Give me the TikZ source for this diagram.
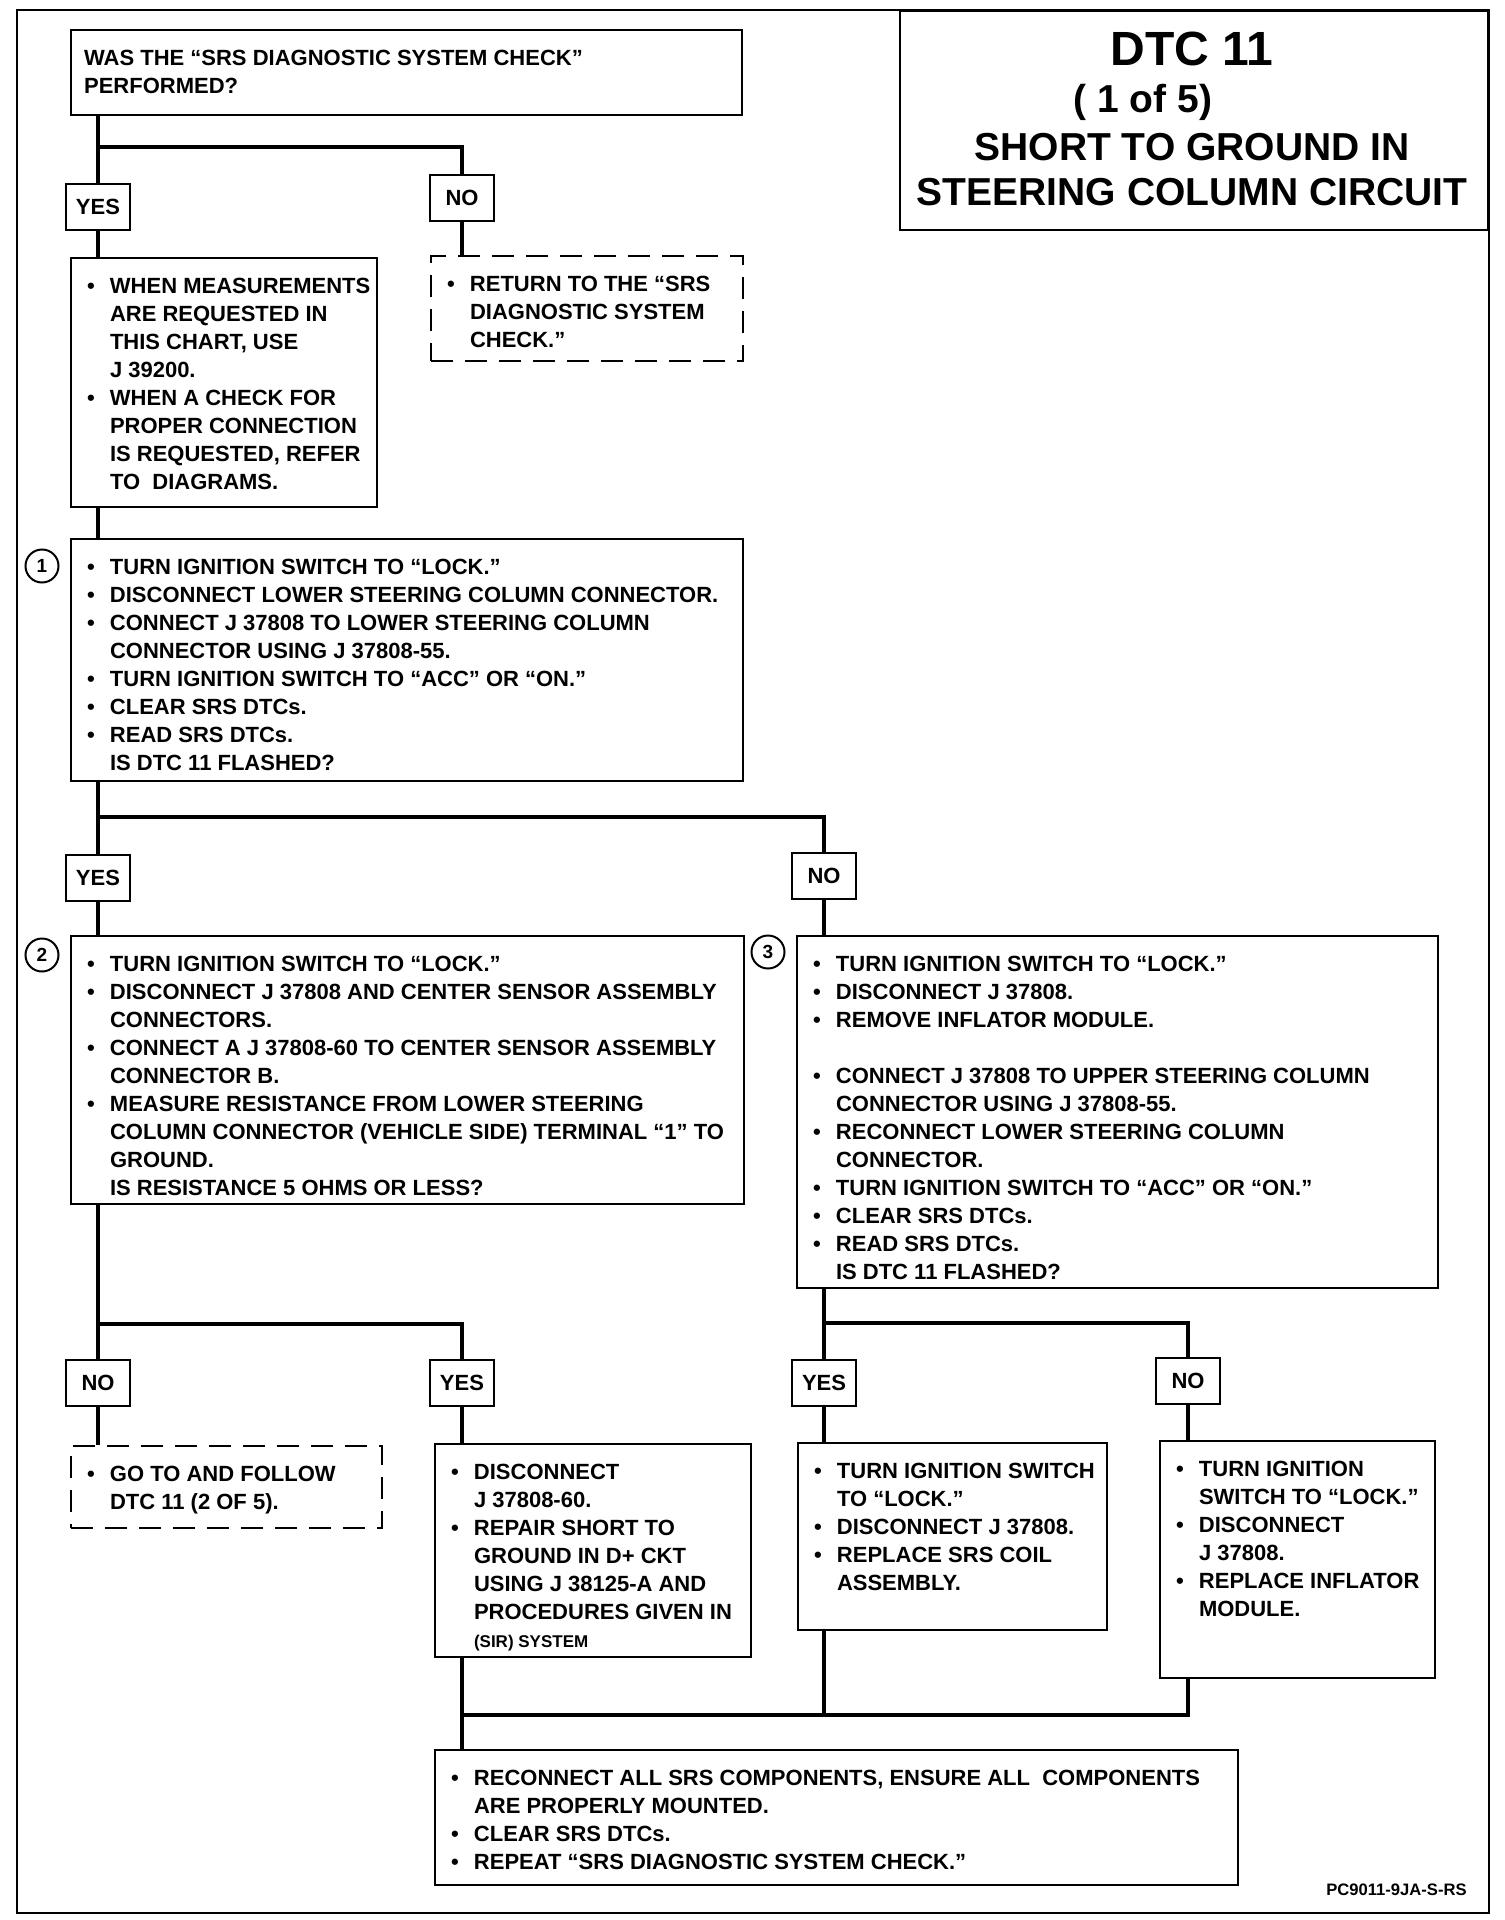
\documentclass[tikz,border=0pt]{standalone}
\usepackage{fontspec}
\setmainfont{Liberation Sans}
\usepackage{tikz}

\newcommand{\boxfont}{\fontsize{11}{14}\selectfont\bfseries}
\newenvironment{bullets}{\begin{tabular}{@{\hspace{8pt}}l@{\hspace{7.6pt}}l@{}}}{\end{tabular}}

\begin{document}
\begin{tikzpicture}[
    x=0.5pt, y=-0.5pt,
    stepbox/.style 2 args={draw, line width=1.1pt, anchor=north west, inner sep=0pt, font=\boxfont,
        execute at begin node={\begin{minipage}[c][#2][t]{#1}\vspace{8pt}\noindent},
        execute at end node={\end{minipage}}},
    dashbox/.style 2 args={stepbox={#1}{#2}, dash pattern=on 11pt off 6pt},
    answer/.style={draw, line width=1.1pt, inner sep=0pt, minimum width=32pt, minimum height=23pt, font=\boxfont},
    stepnum/.style={circle, draw, line width=1pt, inner sep=0pt, minimum size=16.5pt, font=\fontsize{9.5}{10}\selectfont\bfseries},
    titletext/.style={font=\fontsize{19.5}{22}\selectfont\bfseries, inner sep=0pt},
    flow/.style={line width=2.2pt}
]
    \useasboundingbox (0,0) rectangle (1504,1920);

    % --- FRAME AND TITLE ---
    \draw[line width=0.8pt] (17,10) rectangle (1489,1913);
    \node[draw, line width=0.8pt, anchor=north east, inner sep=0pt,
          minimum width=294pt, minimum height=109.5pt] (titlebox) at (1489,10) {};
    \node[titletext, font=\fontsize{24}{28}\selectfont\bfseries] (title1) at (1192,49) {DTC 11};
    \node[titletext] (title2) at (1143,102) {( 1 of 5)};
    \node[titletext] (title3) at (1192,147) {SHORT TO GROUND IN};
    \node[titletext] (title4) at (1192,192) {STEERING COLUMN CIRCUIT};

    % --- START ---
    \node[stepbox={335.5pt}{42.5pt}] (start) at (70,29) {\begin{tabular}{@{\hspace{6.5pt}}l@{}}
        WAS THE “SRS DIAGNOSTIC SYSTEM CHECK”\\
        PERFORMED?
    \end{tabular}};

    \node[answer] (yes1) at (98,207) {YES};
    \node[answer] (no1) at (462,198) {NO};

    \node[stepbox={153pt}{124.5pt}] (notes) at (70,257) {\begin{bullets}
        \textbullet & WHEN MEASUREMENTS\\
        & ARE REQUESTED IN\\
        & THIS CHART, USE\\
        & J 39200.\\
        \textbullet & WHEN A CHECK FOR\\
        & PROPER CONNECTION\\
        & IS REQUESTED, REFER\\
        & TO\ \ DIAGRAMS.
    \end{bullets}};

    \node[dashbox={156pt}{52.5pt}] (return) at (430,255) {\begin{bullets}
        \textbullet & RETURN TO THE “SRS\\
        & DIAGNOSTIC SYSTEM\\
        & CHECK.”
    \end{bullets}};

    % --- STEP 1 ---
    \node[stepnum] (num1) at (42,566) {1};
    \node[stepbox={336pt}{121pt}] (step1) at (70,538) {\begin{bullets}
        \textbullet & TURN IGNITION SWITCH TO “LOCK.”\\
        \textbullet & DISCONNECT LOWER STEERING COLUMN CONNECTOR.\\
        \textbullet & CONNECT J 37808 TO LOWER STEERING COLUMN\\
        & CONNECTOR USING J 37808-55.\\
        \textbullet & TURN IGNITION SWITCH TO “ACC” OR “ON.”\\
        \textbullet & CLEAR SRS DTCs.\\
        \textbullet & READ SRS DTCs.\\
        & IS DTC 11 FLASHED?
    \end{bullets}};

    \node[answer] (yes2) at (98,878) {YES};
    \node[answer] (no2) at (824,876) {NO};

    % --- STEP 2 ---
    \node[stepnum] (num2) at (42,955) {2};
    \node[stepbox={336.5pt}{134pt}] (step2) at (70,935) {\begin{bullets}
        \textbullet & TURN IGNITION SWITCH TO “LOCK.”\\
        \textbullet & DISCONNECT J 37808 AND CENTER SENSOR ASSEMBLY\\
        & CONNECTORS.\\
        \textbullet & CONNECT A J 37808-60 TO CENTER SENSOR ASSEMBLY\\
        & CONNECTOR B.\\
        \textbullet & MEASURE RESISTANCE FROM LOWER STEERING\\
        & COLUMN CONNECTOR (VEHICLE SIDE) TERMINAL “1” TO\\
        & GROUND.\\
        & IS RESISTANCE 5 OHMS OR LESS?
    \end{bullets}};

    % --- STEP 3 ---
    \node[stepnum] (num3) at (768,952) {3};
    \node[stepbox={320.5pt}{176pt}] (step3) at (796,935) {\begin{bullets}
        \textbullet & TURN IGNITION SWITCH TO “LOCK.”\\
        \textbullet & DISCONNECT J 37808.\\
        \textbullet & REMOVE INFLATOR MODULE.\\
        & \\
        \textbullet & CONNECT J 37808 TO UPPER STEERING COLUMN\\
        & CONNECTOR USING J 37808-55.\\
        \textbullet & RECONNECT LOWER STEERING COLUMN\\
        & CONNECTOR.\\
        \textbullet & TURN IGNITION SWITCH TO “ACC” OR “ON.”\\
        \textbullet & CLEAR SRS DTCs.\\
        \textbullet & READ SRS DTCs.\\
        & IS DTC 11 FLASHED?
    \end{bullets}};

    \node[answer] (no3) at (98,1383) {NO};
    \node[answer] (yes3) at (462,1383) {YES};
    \node[answer] (yes4) at (824,1383) {YES};
    \node[answer] (no4) at (1188,1381) {NO};

    % --- RESULTS ---
    \node[dashbox={155.5pt}{41pt}] (goto) at (70,1445) {\begin{bullets}
        \textbullet & GO TO AND FOLLOW\\
        & DTC 11 (2 OF 5).
    \end{bullets}};

    \node[stepbox={158pt}{106.5pt}] (repair) at (434,1443) {\begin{bullets}
        \textbullet & DISCONNECT\\
        & J 37808-60.\\
        \textbullet & REPAIR SHORT TO\\
        & GROUND IN D+ CKT\\
        & USING J 38125-A AND\\
        & PROCEDURES GIVEN IN\\
        & {\fontsize{8.5}{14}\selectfont (SIR) SYSTEM}
    \end{bullets}};

    \node[stepbox={154.5pt}{93.5pt}] (coil) at (797,1442) {\begin{bullets}
        \textbullet & TURN IGNITION SWITCH\\
        & TO “LOCK.”\\
        \textbullet & DISCONNECT J 37808.\\
        \textbullet & REPLACE SRS COIL\\
        & ASSEMBLY.
    \end{bullets}};

    \node[stepbox={137.5pt}{118.5pt}] (inflator) at (1159,1440) {\begin{bullets}
        \textbullet & TURN IGNITION\\
        & SWITCH TO “LOCK.”\\
        \textbullet & DISCONNECT\\
        & J 37808.\\
        \textbullet & REPLACE INFLATOR\\
        & MODULE.
    \end{bullets}};

    \node[stepbox={401.5pt}{67.5pt}] (finish) at (434,1749) {\begin{bullets}
        \textbullet & RECONNECT ALL SRS COMPONENTS, ENSURE ALL\ \ COMPONENTS\\
        & ARE PROPERLY MOUNTED.\\
        \textbullet & CLEAR SRS DTCs.\\
        \textbullet & REPEAT “SRS DIAGNOSTIC SYSTEM CHECK.”
    \end{bullets}};

    \node[font=\fontsize{8.3}{10}\selectfont\bfseries, anchor=east, inner sep=0pt] (code) at (1467,1890) {PC9011-9JA-S-RS};

    % --- CONNECTORS ---
    \coordinate (fork1) at (98,147);
    \coordinate (fork2) at (98,817);
    \coordinate (fork3) at (98,1324);
    \coordinate (fork4) at (824,1323);
    \coordinate (merge) at (462,1715);

    \draw[flow] (start.south -| yes1) -- (yes1.north);
    \draw[flow] (fork1) -| (no1.north);
    \draw[flow] (yes1.south) -- (yes1.south |- notes.north);
    \draw[flow] (no1.south) -- (no1.south |- return.north);
    \draw[flow] (notes.south -| yes1) -- (step1.north -| yes1);

    \draw[flow] (step1.south -| yes2) -- (yes2.north);
    \draw[flow] (fork2) -| (no2.north);
    \draw[flow] (yes2.south) -- (yes2.south |- step2.north);
    \draw[flow] (no2.south) -- (no2.south |- step3.north);

    \draw[flow] (step2.south -| no3) -- (no3.north);
    \draw[flow] (fork3) -| (yes3.north);
    \draw[flow] (no3.south) -- (no3.south |- goto.north);
    \draw[flow] (yes3.south) -- (yes3.south |- repair.north);

    \draw[flow] (step3.south -| yes4) -- (yes4.north);
    \draw[flow] (fork4) -| (no4.north);
    \draw[flow] (yes4.south) -- (yes4.south |- coil.north);
    \draw[flow] (no4.south) -- (no4.south |- inflator.north);

    \draw[flow] (repair.south -| yes3) -- (finish.north -| yes3);
    \draw[flow] (inflator.south -| no4) |- (merge);
    \draw[flow] (coil.south -| yes4) -- (merge -| yes4);

\end{tikzpicture}
\end{document}
